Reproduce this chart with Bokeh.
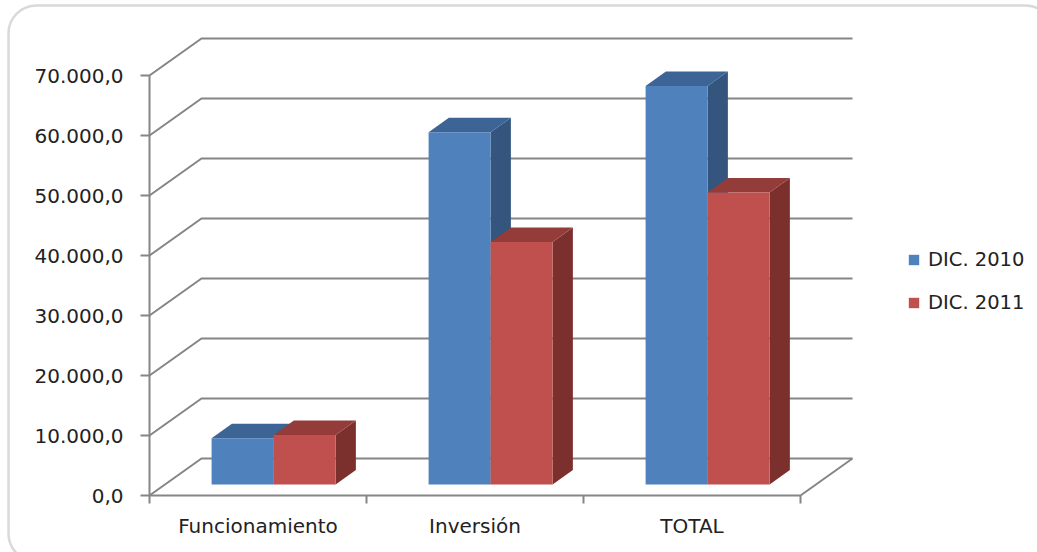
from bokeh.plotting import figure
from bokeh.models import Range1d, Legend, LegendItem, BoxAnnotation
from bokeh.core.properties import value
from bokeh.embed import file_html
from bokeh.resources import INLINE

# ---- data -------------------------------------------------------------
categories = ["Funcionamiento", "Inversión", "TOTAL"]
series_names = ["DIC. 2010", "DIC. 2011"]
dic_2010 = [7700, 58700, 66400]
dic_2011 = [8250, 40400, 48650]
y_ticks = [0, 10000, 20000, 30000, 40000, 50000, 60000, 70000]

# ---- layout (pixels) -----------------------------------------------------
W, H = 1037, 552
ORIGIN_X, ORIGIN_Y = 149, 495      # front-left corner of the floor
CAT_PX = 217                       # width of one category slot
PX_PER_VAL = 60 / 10000            # vertical scale
DEPTH_PX = (52, 37)                # oblique depth of the box
BAR_DEPTH = (0.30, 0.69)           # bar front / back as fraction of depth
GAP_WIDTH = 1.5                    # gap between groups, in bar widths

FONT = "DejaVu Sans"
TEXT_COLOR = "#222222"
GRID_COLOR = "#858585"
BORDER_COLOR = "#808080"

front_colors = ["#4F81BD", "#C0504D"]
top_colors = ["#3C6596", "#943C39"]
side_colors = ["#33557E", "#7B302E"]


def px_x(px):
    return px / CAT_PX


def px_y(px):
    return px / PX_PER_VAL


x_start = px_x(-ORIGIN_X)
y_start = px_y(-(H - ORIGIN_Y))
p = figure(width=W, height=H, output_backend="svg", toolbar_location=None,
           x_axis_type=None, y_axis_type=None, min_border=0,
           x_range=Range1d(x_start, x_start + px_x(W)),
           y_range=Range1d(y_start, y_start + px_y(H)))
p.outline_line_color = None
p.background_fill_color = "white"
p.border_fill_color = "white"

dx, dy = px_x(DEPTH_PX[0]), px_y(DEPTH_PX[1])
n_cat = len(categories)
y_max = y_ticks[-1]

# ---- walls, floor and gridlines -------------------------------------------
grid_xs, grid_ys = [], []
for v in y_ticks:
    grid_xs.append([0, dx, n_cat + dx])
    grid_ys.append([v, v + dy, v + dy])
# front and right edge of the floor
grid_xs.append([0, n_cat, n_cat + dx])
grid_ys.append([0, 0, dy])
p.multi_line(grid_xs, grid_ys, line_color=GRID_COLOR, line_width=2)

# value axis line and ticks
p.segment(x0=[0], y0=[0], x1=[0], y1=[y_max], line_color=GRID_COLOR, line_width=2)
p.segment(x0=[px_x(-9)] * len(y_ticks), y0=y_ticks, x1=[0] * len(y_ticks), y1=y_ticks,
          line_color=GRID_COLOR, line_width=2)
# category tick marks between groups
cat_edges = list(range(n_cat + 1))
p.segment(x0=cat_edges, y0=[0] * len(cat_edges), x1=cat_edges,
          y1=[px_y(-8)] * len(cat_edges), line_color=GRID_COLOR, line_width=2)


def fmt(v):
    s = f"{v:,.1f}"
    return s.replace(",", "_").replace(".", ",").replace("_", ".")


p.text(x=[px_x(-26)] * len(y_ticks), y=y_ticks, text=[fmt(v) for v in y_ticks],
       text_align="right", text_baseline="middle", text_font=value(FONT),
       text_font_size="20px", text_color=TEXT_COLOR)

p.text(x=[i + 0.5 for i in range(n_cat)], y=[px_y(-30)] * n_cat, text=categories,
       text_align="center", text_baseline="middle", text_font=value(FONT),
       text_font_size="20px", text_color=TEXT_COLOR)

# ---- 3D bars ---------------------------------------------------------------
bar_w = 1 / (len(series_names) + GAP_WIDTH)
fx, fy = BAR_DEPTH[0] * dx, BAR_DEPTH[0] * dy
bx, by = (BAR_DEPTH[1] - BAR_DEPTH[0]) * dx, (BAR_DEPTH[1] - BAR_DEPTH[0]) * dy

legend_items = []
for s, vals in enumerate([dic_2010, dic_2011]):
    front_x, front_y, top_x, top_y, side_x, side_y = [], [], [], [], [], []
    for i, v in enumerate(vals):
        xl = i + 0.5 - bar_w * len(series_names) / 2 + s * bar_w + fx
        xr = xl + bar_w
        y0, y1 = fy, v + fy
        front_x.append([xl, xr, xr, xl])
        front_y.append([y0, y0, y1, y1])
        top_x.append([xl, xr, xr + bx, xl + bx])
        top_y.append([y1, y1, y1 + by, y1 + by])
        side_x.append([xr, xr + bx, xr + bx, xr])
        side_y.append([y0, y0 + by, y1 + by, y1])
    p.patches(side_x, side_y, fill_color=side_colors[s], line_color=None)
    p.patches(top_x, top_y, fill_color=top_colors[s], line_color=None)
    r = p.patches(front_x, front_y, fill_color=front_colors[s], line_color=None)
    legend_items.append(LegendItem(label=series_names[s], renderers=[r]))

legend = Legend(items=legend_items, location=(907, 238), orientation="vertical",
                glyph_width=13, glyph_height=13, label_standoff=8, spacing=20,
                padding=0, margin=0, border_line_color=None, background_fill_alpha=0,
                label_text_font=FONT, label_text_font_size="19.5px",
                label_text_color=TEXT_COLOR, label_height=20)
p.add_layout(legend)

# ---- chart border ---------------------------------------------------------
p.add_layout(BoxAnnotation(left=px_x(8 - ORIGIN_X), right=px_x(1053 - ORIGIN_X),
                           top=px_y(ORIGIN_Y - 5), bottom=px_y(ORIGIN_Y - 561),
                           fill_color=None, line_color=BORDER_COLOR, line_width=2.5,
                           border_radius=28))

open("out.html", "w").write(file_html(p, INLINE))
